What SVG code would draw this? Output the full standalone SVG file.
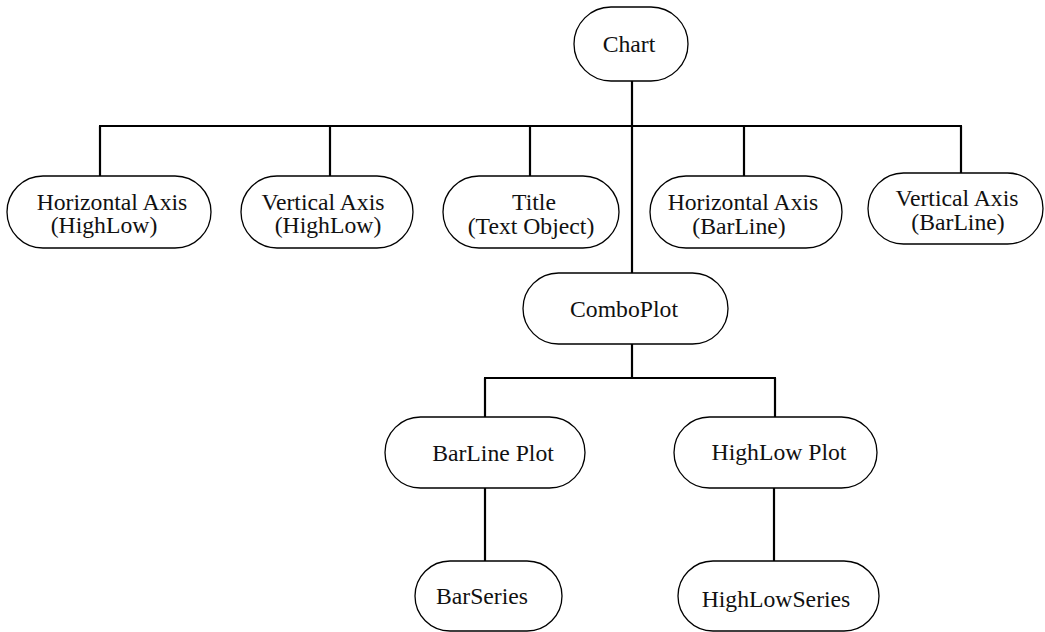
<svg xmlns="http://www.w3.org/2000/svg" width="1045" height="632" viewBox="0 0 1045 632">
<style>
.node{fill:#fff;stroke:#000;stroke-width:1.3}
.conn{stroke:#000;stroke-width:2.2;fill:none}
text{font-family:"Liberation Serif","Times New Roman",serif;font-size:23.7px;fill:#111;text-anchor:middle}
</style>
<rect width="1045" height="632" fill="#fff"/>
<g id="connectors">
<line class="conn" x1="632" y1="81" x2="632" y2="273"/>
<line class="conn" x1="99" y1="126" x2="962" y2="126"/>
<line class="conn" x1="100" y1="126" x2="100" y2="176"/>
<line class="conn" x1="330" y1="126" x2="330" y2="176"/>
<line class="conn" x1="530" y1="126" x2="530" y2="177"/>
<line class="conn" x1="744" y1="126" x2="744" y2="177"/>
<line class="conn" x1="961" y1="126" x2="961" y2="173"/>
<line class="conn" x1="632" y1="344" x2="632" y2="378"/>
<line class="conn" x1="484" y1="378" x2="776" y2="378"/>
<line class="conn" x1="485" y1="378" x2="485" y2="417"/>
<line class="conn" x1="775" y1="378" x2="775" y2="417"/>
<line class="conn" x1="485" y1="488" x2="485" y2="561"/>
<line class="conn" x1="774" y1="488" x2="774" y2="561"/>
</g>
<g id="chart">
<rect class="node" x="574" y="7" width="114" height="74" rx="37"/>
<text x="629" y="52">Chart</text>
</g>
<g id="haxis-highlow">
<rect class="node" x="7" y="176" width="204" height="72" rx="36"/>
<text x="112" y="210">Horizontal Axis</text>
<text x="104" y="233">(HighLow)</text>
</g>
<g id="vaxis-highlow">
<rect class="node" x="241" y="176" width="172" height="72" rx="36"/>
<text x="323" y="210">Vertical Axis</text>
<text x="328" y="233">(HighLow)</text>
</g>
<g id="title">
<rect class="node" x="443" y="176" width="176" height="72" rx="36"/>
<text x="534" y="210">Title</text>
<text x="531" y="234">(Text Object)</text>
</g>
<g id="haxis-barline">
<rect class="node" x="650" y="176" width="192" height="72" rx="36"/>
<text x="743" y="210">Horizontal Axis</text>
<text x="739" y="234">(BarLine)</text>
</g>
<g id="vaxis-barline">
<rect class="node" x="868" y="173" width="175" height="71" rx="35.5"/>
<text x="957" y="206">Vertical Axis</text>
<text x="958" y="230">(BarLine)</text>
</g>
<g id="comboplot">
<rect class="node" x="523" y="273" width="205" height="71" rx="35.5"/>
<text x="624" y="317">ComboPlot</text>
</g>
<g id="barline-plot">
<rect class="node" x="385" y="417" width="200" height="71" rx="35.5"/>
<text x="493" y="461">BarLine Plot</text>
</g>
<g id="highlow-plot">
<rect class="node" x="674" y="417" width="203" height="71" rx="35.5"/>
<text x="779" y="460">HighLow Plot</text>
</g>
<g id="barseries">
<rect class="node" x="415" y="561" width="147" height="70" rx="35"/>
<text x="482" y="604">BarSeries</text>
</g>
<g id="highlowseries">
<rect class="node" x="678" y="561" width="201" height="70" rx="35"/>
<text x="776" y="607">HighLowSeries</text>
</g>
</svg>
